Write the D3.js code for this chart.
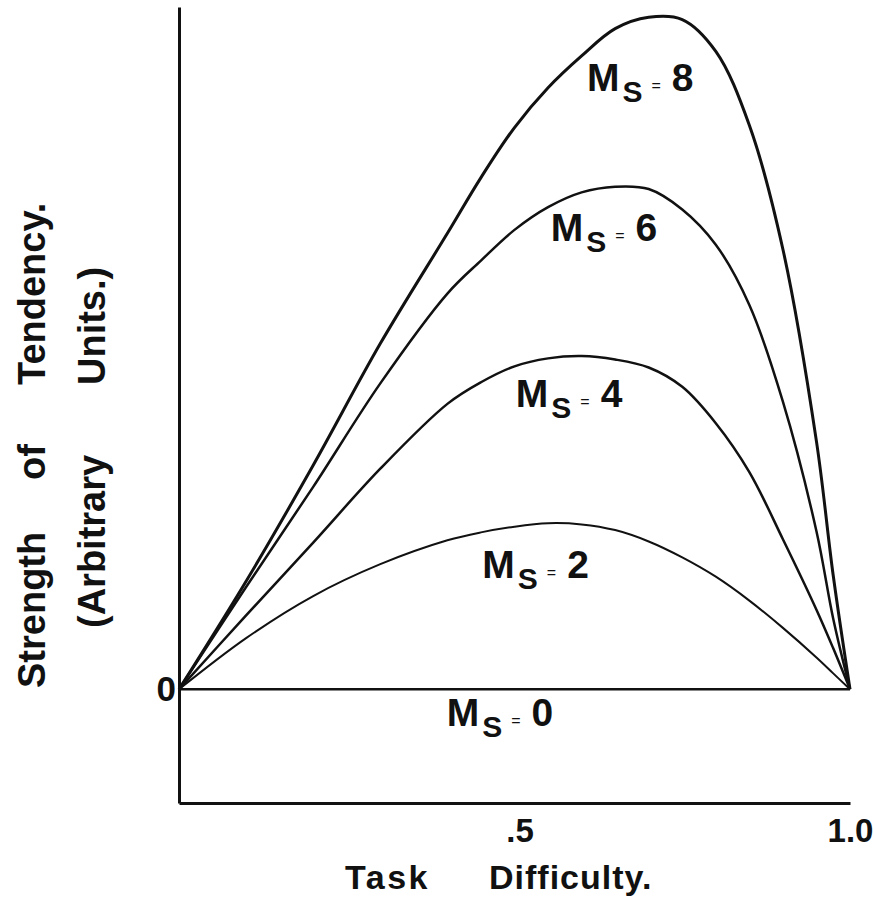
<!DOCTYPE html>
<html>
    <head>
        <title>Strength of Tendency vs Task Difficulty</title>
        <script src="https://d3js.org/d3.v7.min.js"></script>
        <style>
            body {
                margin: 0;
                background-color: #ffffff;
            }
            svg {
                display: block;
                background-color: #ffffff;
                font-family: 'Liberation Sans', Arial, sans-serif;
                font-weight: bold;
            }
        </style>
    </head>
    <body>
        <script>
            const difficulty = [0, .1, .2, .3, .4, .45, .5, .55, .6, .65, .7, .75, .8, .85, .9, .95, .975, 1]

            // strength of tendency, arbitrary units
            const ms8 = [0, 0.95, 1.97, 3.04, 4.01, 4.50, 4.94, 5.29, 5.57, 5.81, 5.91, 5.89, 5.61, 4.96, 3.87, 2.18, 1.00, 0]
            const ms6 = [0, 0.90, 1.78, 2.69, 3.48, 3.77, 4.04, 4.24, 4.37, 4.42, 4.40, 4.22, 3.91, 3.38, 2.53, 1.39, 0.62, 0]
            const ms4 = [0, 0.65, 1.29, 1.94, 2.51, 2.70, 2.84, 2.91, 2.93, 2.90, 2.83, 2.66, 2.34, 1.91, 1.32, 0.70, 0.36, 0]
            const ms2 = [0, 0.45, 0.82, 1.10, 1.31, 1.38, 1.43, 1.46, 1.45, 1.40, 1.30, 1.16, 0.99, 0.78, 0.54, 0.28, 0.14, 0]
            const ms0 = [0, 0]
            const ms0Difficulty = [0, 1]

            const seriesNames = ['8', '6', '4', '2', '0']
            // where each "Ms = n" label sits, in data units (difficulty, strength)
            const labelDifficulty = [0.608, 0.554, 0.502, 0.452, 0.399]
            const labelStrength = [5.26, 3.94, 2.48, 0.98, -0.32]

            const xTickValues = [0.5, 1]
            const xTickLabels = ['.5', '1.0']
            const yTickValues = [0]
            const yTickLabels = ['0']

            const svg = d3.select('body').append('svg')
            svg.attr('width', 874)
            svg.attr('height', 905)

            const xScale = d3.scaleLinear().domain([0, 1]).range([179, 850])
            const yScale = d3.scaleLinear().domain([-1, 6]).range([803, 7])

            const series = [
                { name: '8', xs: difficulty, ys: ms8, width: 3 },
                { name: '6', xs: difficulty, ys: ms6, width: 2.5 },
                { name: '4', xs: difficulty, ys: ms4, width: 2.5 },
                { name: '2', xs: difficulty, ys: ms2, width: 2 },
                { name: '0', xs: ms0Difficulty, ys: ms0, width: 2.5 }
            ]

            const line = d3.line()
                .x(d => xScale(d[0]))
                .y(d => yScale(d[1]))
                .curve(d3.curveCatmullRom.alpha(0.5))

            svg.selectAll('.curve')
                .data(series).enter()
                .append('path')
                    .attr('class', 'curve')
                    .attr('d', s => line(s.xs.map((x, i) => [x, s.ys[i]])))
                    .attr('fill', 'none')
                    .attr('stroke', '#111')
                    .attr('stroke-width', s => s.width)
                    .attr('stroke-linejoin', 'round')

            // axes: left line with the "0" and the bottom line with .5 / 1.0
            const yAxis = d3.axisLeft(yScale)
                .tickValues(yTickValues)
                .tickFormat((d, i) => yTickLabels[i])
                .tickSize(0).tickPadding(3)
            const yAxisG = svg.append('g').attr('transform', `translate(${xScale(0)}, 0)`).call(yAxis)

            const xAxis = d3.axisBottom(xScale)
                .tickValues(xTickValues)
                .tickFormat((d, i) => xTickLabels[i])
                .tickSize(0).tickSizeOuter(0)
            const xAxisG = svg.append('g').attr('transform', `translate(0, ${yScale(-1)})`).call(xAxis)

            svg.selectAll('.domain').attr('stroke', '#111').attr('stroke-width', 3)
            yAxisG.selectAll('text')
                .attr('font-size', 35).attr('font-weight', 'bold')
                .attr('font-family', 'Liberation Sans, Arial, sans-serif')
                .attr('fill', '#111')
            xAxisG.selectAll('text')
                .attr('font-size', 33).attr('font-weight', 'bold')
                .attr('font-family', 'Liberation Sans, Arial, sans-serif')
                .attr('fill', '#111')
                .attr('y', 39).attr('dy', 0)
                .attr('dx', d => d === 0.5 ? 5 : 0)

            // "Ms = n" labels
            const labels = svg.selectAll('.ms-label')
                .data(seriesNames).enter()
                .append('text')
                    .attr('class', 'ms-label')
                    .attr('x', (d, i) => xScale(labelDifficulty[i]))
                    .attr('y', (d, i) => yScale(labelStrength[i]))
                    .attr('fill', '#111')
                    .attr('font-size', 39)
            labels.append('tspan').text('M')
            labels.append('tspan').text('S')
                .attr('font-size', 30).attr('dx', 3).attr('dy', 11)
            labels.append('tspan').text('=')
                .attr('font-size', 16).attr('font-weight', 'normal').attr('dx', 9).attr('dy', -11)
            labels.append('tspan').text(d => d)
                .attr('dx', 11)

            // axis titles
            svg.append('text')
                .attr('x', 345).attr('y', 889)
                .attr('font-size', 34).attr('letter-spacing', 2.5).attr('fill', '#111')
                .text('Task')
            svg.append('text')
                .attr('x', 489).attr('y', 889)
                .attr('font-size', 34).attr('letter-spacing', 1).attr('fill', '#111')
                .text('Difficulty.')

            const yTitle1 = svg.append('g').attr('transform', 'translate(45, 0) rotate(-90)')
            yTitle1.append('text').attr('x', -688).attr('font-size', 38).attr('fill', '#111').text('Strength')
            yTitle1.append('text').attr('x', -480).attr('font-size', 38).attr('fill', '#111').text('of')
            yTitle1.append('text').attr('x', -385).attr('font-size', 38).attr('fill', '#111').text('Tendency.')

            const yTitle2 = svg.append('g').attr('transform', 'translate(105, 0) rotate(-90)')
            yTitle2.append('text').attr('x', -628).attr('font-size', 38).attr('fill', '#111').text('(Arbitrary')
            yTitle2.append('text').attr('x', -385).attr('font-size', 38).attr('fill', '#111').text('Units.)')
        </script>
    </body>
</html>
